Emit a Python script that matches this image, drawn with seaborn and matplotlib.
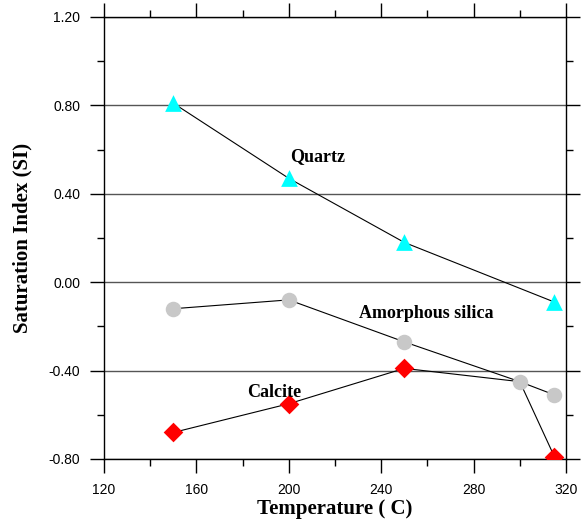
import seaborn as sns
import matplotlib.pyplot as plt
import pandas as pd
from matplotlib.ticker import MultipleLocator, FormatStrFormatter

# saturation index vs temperature
quartz_t = [150, 200, 250, 315]
quartz_si = [0.81, 0.47, 0.18, -0.09]
silica_t = [150, 200, 250, 300, 315]
silica_si = [-0.12, -0.08, -0.27, -0.45, -0.51]
calcite_t = [150, 200, 250, 300, 315]
calcite_si = [-0.68, -0.55, -0.39, -0.45, -0.79]
calcite_marked = [True, True, True, False, True]  # 300 C point sits under the silica circle

quartz = pd.DataFrame({"T": quartz_t, "SI": quartz_si})
silica = pd.DataFrame({"T": silica_t, "SI": silica_si})
calcite = pd.DataFrame({"T": calcite_t, "SI": calcite_si, "mark": calcite_marked})

sns.set_style("ticks", {"text.color": "black", "axes.labelcolor": "black",
                        "xtick.color": "black", "ytick.color": "black",
                        "axes.edgecolor": "black"})
plt.rcParams["axes.unicode_minus"] = False
plt.rcParams["font.family"] = ["Liberation Sans", "DejaVu Sans"]

fig = plt.figure(figsize=(5.81, 5.22), dpi=100)
ax = fig.add_axes([104 / 581, 63 / 522, 462 / 581, 442 / 522])

for d in (calcite, silica, quartz):
    sns.lineplot(data=d, x="T", y="SI", color="black", lw=0.8, ax=ax, sort=False)

sns.scatterplot(data=calcite[calcite["mark"]], x="T", y="SI", marker="D", color="red", s=100, linewidth=0, ax=ax, zorder=3)
sns.scatterplot(data=silica, x="T", y="SI", marker="o", color="#c8c8c8", s=125, linewidth=0, ax=ax, zorder=4)
sns.scatterplot(data=quartz, x="T", y="SI", marker="^", color="cyan", s=145, linewidth=0, ax=ax, zorder=5)

ax.set_xlim(120, 320)
ax.set_ylim(-0.8, 1.2)
ax.xaxis.set_major_locator(MultipleLocator(40))
ax.xaxis.set_minor_locator(MultipleLocator(20))
ax.yaxis.set_major_locator(MultipleLocator(0.4))
ax.yaxis.set_minor_locator(MultipleLocator(0.2))
ax.yaxis.set_major_formatter(FormatStrFormatter("%.2f"))

ax.tick_params(which="both", direction="out", top=True, right=True, labelsize=10, width=1, color="black")
ax.tick_params(which="major", length=10, pad=7)
ax.tick_params(which="minor", length=5)
ax.grid(axis="y", which="major", color="#555555", lw=1)
for sp in ax.spines.values():
    sp.set_color("black")
    sp.set_linewidth(1)

serif = ["Liberation Serif", "DejaVu Serif"]
ax.set_xlabel("Temperature ( C)", family=serif, fontweight="bold", fontsize=15, labelpad=2)
ax.set_ylabel("Saturation Index (SI)", family=serif, fontweight="bold", fontsize=15, labelpad=12)

ax.text(212.6, 0.567, "Quartz", family=serif, fontweight="bold", fontsize=13, ha="center", va="center")
ax.text(259.4, -0.14, "Amorphous silica", family=serif, fontweight="bold", fontsize=13, ha="center", va="center")
ax.text(193.6, -0.497, "Calcite", family=serif, fontweight="bold", fontsize=13, ha="center", va="center")

fig.savefig("out.png", dpi=100)
